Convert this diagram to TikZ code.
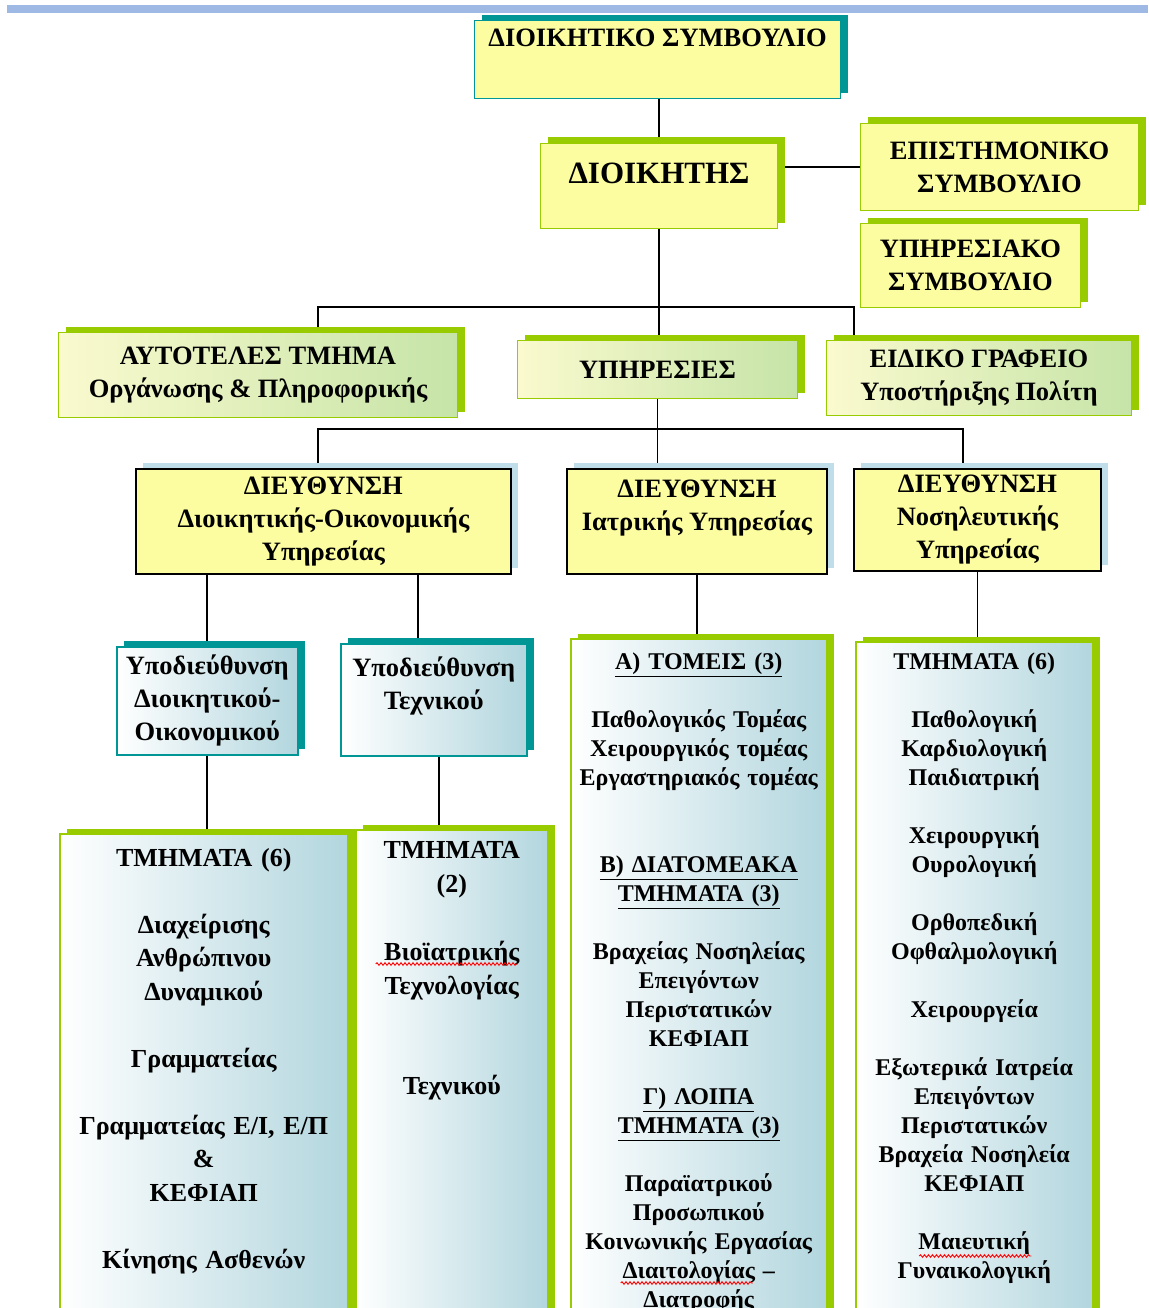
\documentclass[tikz,border=0pt]{standalone}
\usepackage{fontspec}
\setmainfont{Liberation Serif}
\usetikzlibrary{shadows,positioning,decorations.pathmorphing}

\definecolor{paleyel}{RGB}{252,252,160}
\definecolor{tealsh}{RGB}{0,150,150}
\definecolor{limesh}{RGB}{153,204,0}
\definecolor{skysh}{RGB}{192,222,234}
\definecolor{yelstart}{RGB}{250,250,206}
\definecolor{greenend}{RGB}{198,228,168}
\definecolor{bluend}{RGB}{178,214,222}
\definecolor{toolbar}{RGB}{157,185,228}

\pgfdeclarelayer{background}
\pgfsetlayers{background,main}

\begin{document}
\begin{tikzpicture}[x=1pt,y=-1pt,
	orgbox/.style={anchor=north west,inner sep=2pt,align=center,
		font=\bfseries\fontsize{26.5}{33}\selectfont},
	tealbox/.style={orgbox,fill=paleyel,draw=tealsh,line width=1.2pt,
		general shadow={fill=tealsh,shadow xshift=7pt,shadow yshift=6pt}},
	limebox/.style={orgbox,fill=paleyel,draw=limesh,line width=1pt,
		general shadow={fill=limesh,shadow xshift=7pt,shadow yshift=6pt}},
	gradbox/.style={orgbox,left color=yelstart,right color=greenend,draw=limesh,line width=1pt,
		general shadow={fill=limesh,shadow xshift=7pt,shadow yshift=6pt}},
	dirbox/.style={orgbox,fill=paleyel,draw=black,line width=1.8pt,
		general shadow={fill=skysh,shadow xshift=7pt,shadow yshift=6pt}},
	subbox/.style={orgbox,left color=white,right color=bluend,draw=tealsh,line width=1.5pt,
		general shadow={fill=tealsh,shadow xshift=7pt,shadow yshift=6pt}},
	listbox/.style={anchor=north west,inner sep=0pt,left color=white,right color=bluend,
		draw=limesh,line width=1.5pt,
		general shadow={fill=limesh,shadow xshift=7pt,shadow yshift=5pt}},
	listtext/.style={inner sep=0pt,align=center,font=\bfseries\fontsize{24}{29}\selectfont},
	spell/.style={red,line width=0.9pt,decorate,decoration={snake,amplitude=1.3pt,segment length=4pt}},
	link/.style={line width=1.8pt}]
	\useasboundingbox (0,0) rectangle (1148,1308);
	\clip (0,0) rectangle (1148,1308);
	\fill[toolbar] (7,5) rectangle (1148,13);
	% top of the chart
	\node[tealbox,minimum width=366,minimum height=78,text depth=43pt] (board) at (474,20) {ΔΙΟΙΚΗΤΙΚΟ ΣΥΜΒΟΥΛΙΟ};
	\node[limebox,minimum width=237,minimum height=85,text depth=26pt,
		font=\bfseries\fontsize{31}{36}\selectfont] (chief) at (540,143) {ΔΙΟΙΚΗΤΗΣ};
	\node[limebox,minimum width=278,minimum height=87] (sciboard) at (860,123) {ΕΠΙΣΤΗΜΟΝΙΚΟ\\ΣΥΜΒΟΥΛΙΟ};
	\node[limebox,minimum width=220,minimum height=84] (servboard) at (860,223) {ΥΠΗΡΕΣΙΑΚΟ\\ΣΥΜΒΟΥΛΙΟ};
	\node[gradbox,minimum width=399,minimum height=85] (itdept) at (58,332) {ΑΥΤΟΤΕΛΕΣ ΤΜΗΜΑ\\Οργάνωσης \& Πληροφορικής};
	\node[gradbox,minimum width=280,minimum height=58] (services) at (517,340) {ΥΠΗΡΕΣΙΕΣ};
	\node[gradbox,minimum width=305,minimum height=75] (citizen) at (826,340) {ΕΙΔΙΚΟ ΓΡΑΦΕΙΟ\\Υποστήριξης Πολίτη};
	% directorates
	\node[dirbox,minimum width=375,minimum height=105] (admdir) at (135,468) {ΔΙΕΥΘΥΝΣΗ\\Διοικητικής-Οικονομικής\\Υπηρεσίας};
	\node[dirbox,minimum width=260,minimum height=105] (meddir) at (566,468) {ΔΙΕΥΘΥΝΣΗ\\Ιατρικής Υπηρεσίας\\~};
	\node[dirbox,minimum width=247,minimum height=102] (nursdir) at (853,468) {ΔΙΕΥΘΥΝΣΗ\\Νοσηλευτικής\\Υπηρεσίας};
	\node[subbox,minimum width=181,minimum height=108] (admsub) at (116,646) {Υποδιεύθυνση\\Διοικητικού-\\Οικονομικού};
	\node[subbox,minimum width=186,minimum height=112] (techsub) at (340,643) {Υποδιεύθυνση\\Τεχνικού\\~};
	% departments
	\node[listbox,minimum width=288,minimum height=520] (admlist) at (59,833) {};
	\node[listbox,minimum width=192,minimum height=520] (techlist) at (355,829) {};
	\node[listbox,minimum width=256,minimum height=720] (medlist) at (570,638) {};
	\node[listbox,minimum width=237,minimum height=720] (nurslist) at (855,641) {};
	\node[listtext,font=\bfseries\fontsize{26}{33.5}\selectfont,text width=282,below=15pt of admlist.north] (admtext)
		{ΤΜΗΜΑΤΑ (6)\\[33.5pt]
		Διαχείρισης\\Ανθρώπινου\\Δυναμικού\\[33.5pt]
		Γραμματείας\\[33.5pt]
		Γραμματείας Ε/Ι, Ε/Π\\\&\\ΚΕΦΙΑΠ\\[33.5pt]
		Κίνησης Ασθενών};
	\node[listtext,font=\bfseries\fontsize{26}{34}\selectfont,text width=186,below=12pt of techlist.north] (techtext)
		{ΤΜΗΜΑΤΑ\\(2)\\[34pt]
		Βιοϊατρικής\\Τεχνολογίας\\[66pt]
		Τεχνικού};
	\node[listtext,text width=250,below=15pt of medlist.north] (medtext)
		{\underline{Α) ΤΟΜΕΙΣ (3)}\\[29pt]
		Παθολογικός Τομέας\\Χειρουργικός τομέας\\Εργαστηριακός τομέας\\[58pt]
		\underline{Β) ΔΙΑΤΟΜΕΑΚΑ}\\\underline{ΤΜΗΜΑΤΑ (3)}\\[29pt]
		Βραχείας Νοσηλείας\\Επειγόντων\\Περιστατικών\\ΚΕΦΙΑΠ\\[29pt]
		\underline{Γ) ΛΟΙΠΑ}\\\underline{ΤΜΗΜΑΤΑ (3)}\\[29pt]
		Παραϊατρικού\\Προσωπικού\\Κοινωνικής Εργασίας\\Διαιτολογίας –\\Διατροφής};
	\node[listtext,text width=232,below=12pt of nurslist.north] (nurstext)
		{ΤΜΗΜΑΤΑ (6)\\[29pt]
		Παθολογική\\Καρδιολογική\\Παιδιατρική\\[29pt]
		Χειρουργική\\Ουρολογική\\[29pt]
		Ορθοπεδική\\Οφθαλμολογική\\[29pt]
		Χειρουργεία\\[29pt]
		Εξωτερικά Ιατρεία\\Επειγόντων\\Περιστατικών\\Βραχεία Νοσηλεία\\ΚΕΦΙΑΠ\\[29pt]
		Μαιευτική\\Γυναικολογική};
	% spelling marks
	\draw[spell] ([xshift=-76pt,yshift=-135pt]techlist.north) -- ++(142,0);
	\draw[spell] ([xshift=-78pt,yshift=-645pt]medlist.north) -- ++(132,0);
	\draw[spell] ([xshift=-55pt,yshift=-615pt]nurslist.north) -- ++(112,0);
	% connectors
	\coordinate (upbusl) at (318,307);
	\coordinate (upbusr) at (854,307);
	\coordinate (lowbusl) at (318,429);
	\coordinate (lowbusr) at (963,429);
	\begin{pgfonlayer}{background}
		\draw[link] (board.south -| chief.north) -- (chief.north);
		\draw[link] (chief.east |- sciboard.west) -- (sciboard.west);
		\draw[link] (chief.south) -- (chief.south |- services.north);
		\draw[link] (itdept.north -| upbusl) -- (upbusl) -- (upbusr) -- (citizen.north -| upbusr);
		\draw[link] (services.south) -- (services.south |- meddir.north);
		\draw[link] (admdir.north -| lowbusl) -- (lowbusl) -- (lowbusr) -- (nursdir.north -| lowbusr);
		\draw[link] (admdir.south -| admsub.north) -- (admsub.north);
		\draw[link] ([xshift=-16pt]techsub.north |- admdir.south) -- ([xshift=-16pt]techsub.north);
		\draw[link] (admsub.south) -- (admsub.south |- admlist.north);
		\draw[link] ([xshift=5pt]techsub.south) -- ([xshift=5pt]techsub.south |- techlist.north);
		\draw[link] (meddir.south) -- (meddir.south |- medlist.north);
		\draw[link] (nursdir.south) -- (nursdir.south |- nurslist.north);
	\end{pgfonlayer}
\end{tikzpicture}
\end{document}
